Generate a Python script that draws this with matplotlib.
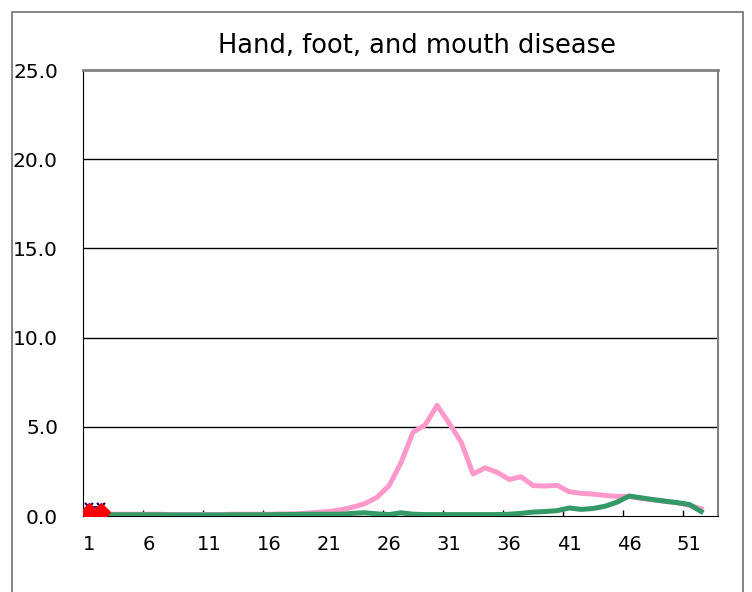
import matplotlib
matplotlib.use('Agg')
import matplotlib.pyplot as plt
from matplotlib.patches import Rectangle

plt.rcParams['font.family'] = ['DejaVu Sans']

weeks = list(range(1, 53))

# this season (pink) and previous season (green), per week
pink = [0.1, 0.1, 0.1, 0.1, 0.1, 0.1, 0.1, 0.08, 0.08, 0.08,
        0.08, 0.08, 0.1, 0.1, 0.1, 0.1, 0.12, 0.12, 0.15, 0.2,
        0.25, 0.35, 0.5, 0.7, 1.05, 1.7, 3.0, 4.7, 5.1, 6.2,
        5.2, 4.15, 2.35, 2.7, 2.45, 2.05, 2.2, 1.7, 1.68, 1.72,
        1.36, 1.27, 1.23, 1.15, 1.1, 1.1, 0.98, 0.9, 0.82, 0.74,
        0.6, 0.4]
green = [0.08, 0.08, 0.07, 0.07, 0.07, 0.07, 0.07, 0.06, 0.06, 0.06,
         0.06, 0.06, 0.07, 0.07, 0.07, 0.07, 0.08, 0.08, 0.1, 0.1,
         0.1, 0.1, 0.15, 0.18, 0.12, 0.08, 0.18, 0.1, 0.08, 0.08,
         0.08, 0.08, 0.08, 0.08, 0.08, 0.1, 0.15, 0.22, 0.25, 0.3,
         0.45, 0.37, 0.42, 0.55, 0.78, 1.12, 1.02, 0.92, 0.83, 0.75,
         0.65, 0.25]
cur_weeks = [1, 2]
blue_x = [0.5, 0.5]
red_d = [0.25, 0.25]

xtick_labels = [1, 6, 11, 16, 21, 26, 31, 36, 41, 46, 51]
ytick_vals = [0, 5, 10, 15, 20, 25]

fig = plt.figure(figsize=(7.52, 5.92), dpi=100)
ax = fig.add_axes([83/752, 1-516/592, (718-83)/752, (516-70)/592])

for y in ytick_vals[1:-1]:
    ax.axhline(y, color='black', lw=1, zorder=1)

ax.plot(weeks, pink, color='#FF99CC', lw=3.6, solid_joinstyle='round', zorder=3)
ax.plot(weeks, green, color='#339966', lw=3.6, solid_joinstyle='round', zorder=4)
ax.plot(cur_weeks, blue_x, color='#000080', lw=1.2, marker='x', ms=6, mew=1.5, zorder=5)
ax.plot(cur_weeks, red_d, color='#FF0000', lw=3, marker='D', ms=9.5, zorder=6)

ax.set_xlim(0.5, 53.4)
ax.set_ylim(0, 25)

ax.set_xticks([k + 0.5 for k in range(5, 55, 5) if k + 0.5 < 53])
ax.set_xticklabels([])
ax.tick_params(axis='x', which='major', direction='in', length=4, width=1)
ax.set_xticks(xtick_labels, minor=True)
ax.set_xticklabels([str(v) for v in xtick_labels], minor=True, fontsize=14)
ax.tick_params(axis='x', which='minor', length=0, pad=14)

ax.set_yticks(ytick_vals)
ax.set_yticklabels(['%.1f' % v for v in ytick_vals], fontsize=14.5)
ax.tick_params(axis='y', length=0, pad=18)

ax.spines['left'].set_color('black')
ax.spines['bottom'].set_color('black')
ax.spines['top'].set_color('#808080')
ax.spines['right'].set_color('#808080')
ax.spines['top'].set_linewidth(2)
ax.spines['right'].set_linewidth(1.5)

fig.text(417/752, 1-46/592, 'Hand, foot, and mouth disease', ha='center', va='center', fontsize=18.5)

fig.patches.append(Rectangle((12/752, -0.1), (743-12)/752, 1.1-12/592,
                             transform=fig.transFigure, fill=False,
                             edgecolor='#707070', lw=1.2))

fig.savefig('out.png', dpi=100)
